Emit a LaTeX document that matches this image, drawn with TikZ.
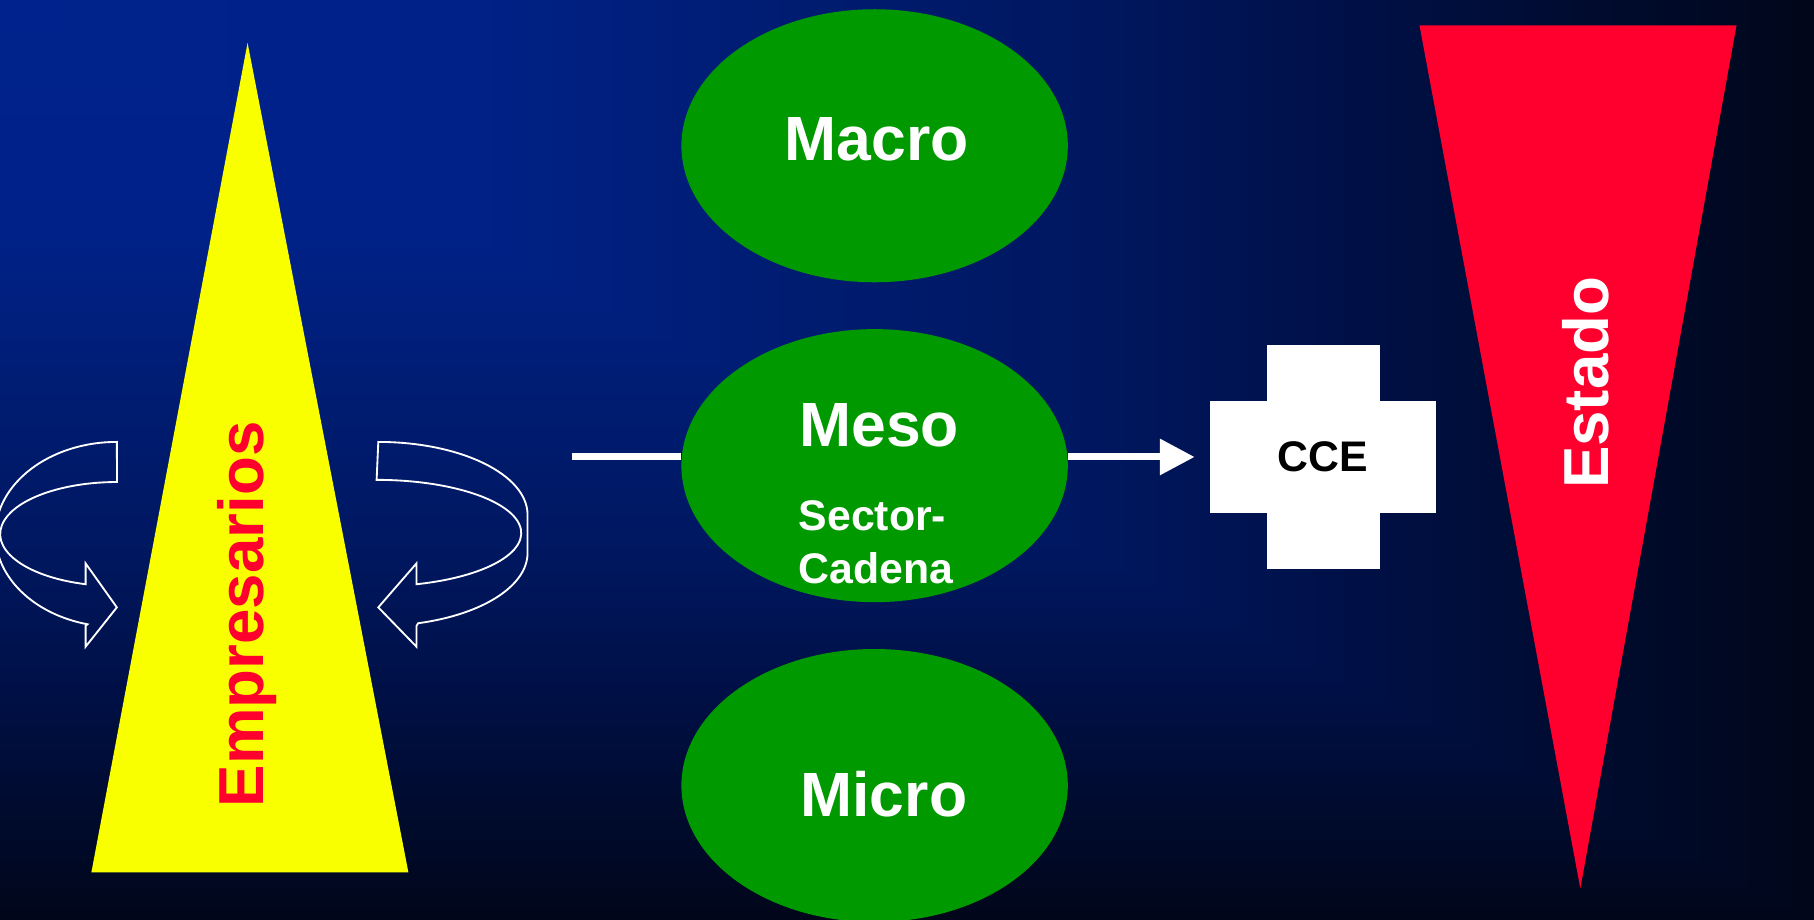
\documentclass[tikz,border=0pt]{standalone}
\usepackage{fontspec}
\setmainfont{Liberation Sans}
\usetikzlibrary{shapes.geometric,arrows.meta}
\definecolor{bgA}{RGB}{0,34,140}
\definecolor{bgB}{RGB}{0,33,136}
\definecolor{bgC}{RGB}{0,28,112}
\definecolor{bgD}{RGB}{0,23,96}
\definecolor{bgE}{RGB}{0,16,70}
\definecolor{bgF}{RGB}{0,11,46}
\definecolor{bgZ}{RGB}{1,6,26}
\definecolor{ovgreen}{RGB}{0,153,0}
\definecolor{triyellow}{RGB}{250,255,0}
\definecolor{trired}{RGB}{255,0,46}
% t -> bp: horizontal 25+50t ; vertical 75-50t
\pgfdeclarehorizontalshading{bghoriz}{100bp}{color(0bp)=(bgA); color(25bp)=(bgA); color(37.5bp)=(bgB); color(47.5bp)=(bgC); color(55bp)=(bgD); color(62.5bp)=(bgE); color(69bp)=(bgF); color(75bp)=(bgZ); color(100bp)=(bgZ)}
\pgfdeclareverticalshading{bgvert}{100bp}{color(0bp)=(bgZ); color(25bp)=(bgZ); color(31bp)=(bgF); color(37.5bp)=(bgE); color(45bp)=(bgD); color(52.5bp)=(bgC); color(62.5bp)=(bgB); color(75bp)=(bgA); color(100bp)=(bgA)}
\tikzset{
  oval/.style={ellipse, fill=ovgreen, minimum width=167pt, minimum height=118pt, inner sep=0pt},
  bigtext/.style={text=white, inner sep=0pt, font=\fontsize{27}{32}\selectfont\bfseries},
  smalltext/.style={inner sep=0pt, font=\fontsize{18.5}{22}\selectfont\bfseries},
  sidetext/.style={rotate=90, anchor=base, inner sep=0pt, font=\fontsize{27.5}{32}\selectfont\bfseries},
  turnarrow/.style={draw=white, line width=0.8pt, line join=miter},
  conn/.style={draw=white, line width=3pt},
}
\begin{document}
\begin{tikzpicture}[x=0.5pt,y=0.5pt]
\useasboundingbox (0,0) rectangle (1568,-795);
\clip (0,0) rectangle (1568,-795);
\shade[shading=bgvert] (0,0) rectangle (1568,-795);
\shade[shading=bghoriz] (0,0) -- (1568,0) -- (1568,-795) -- cycle;

% triangles
\fill[triyellow] (214,-37) -- (353,-754) -- (79,-754) -- cycle;
\fill[trired] (1227,-22) -- (1501,-22) -- (1366,-768) -- cycle;
\node[sidetext, text=trired] (empresarios) at (228,-531) {Empresarios};
\node[sidetext, text=white] (estado) at (1390,-331) {Estado};

% turning arrows
\draw[turnarrow] (101,-382) arc[start angle=90, end angle=256, x radius=105, y radius=80]
  -- (74,-541) -- (74,-559) -- (101,-525) -- (74,-487) -- (74,-505)
  arc[start angle=254.4, end angle=90, x radius=101, y radius=45] -- cycle;
\draw[turnarrow] (327,-382) arc[start angle=90, end angle=0, x radius=129, y radius=63]
  -- (456,-478) arc[start angle=0, end angle=-74.5, x radius=129, y radius=63]
  -- (360,-541) -- (360,-559) -- (327,-525) -- (360,-487) -- (360,-505)
  arc[start angle=-74, end angle=90, x radius=125, y radius=46] -- cycle;

% connector start
\coordinate (lstart) at (494,-395);

% ovals
\node[oval] (macro) at (756,-126) {};
\node[oval] (meso) at (756,-402.5) {};
\node[oval] (micro) at (756,-679) {};
\node[bigtext] (macrot) at (758,-120) {Macro};
\node[bigtext] (mesot) at (760,-368) {Meso};
\node[bigtext] (microt) at (764,-686.5) {Micro};
\node[smalltext, text=white, anchor=west] (sector) at (690,-446) {Sector-};
\node[smalltext, text=white, anchor=west] (cadena) at (690,-491) {Cadena};

% CCE cross
\fill[white] (1095,-298) rectangle (1193,-492);
\node[fill=white, minimum width=97.5pt, minimum height=48.5pt, inner sep=0pt, smalltext, text=black] (cce) at (1143.5,-395) {CCE};

% connectors
\draw[conn] (lstart) -- (lstart -| meso.west);
\draw[conn, -{Triangle[length=15pt, width=15pt]}, shorten >=6.5pt] (lstart -| meso.east) -- (cce.west);
\end{tikzpicture}
\end{document}
